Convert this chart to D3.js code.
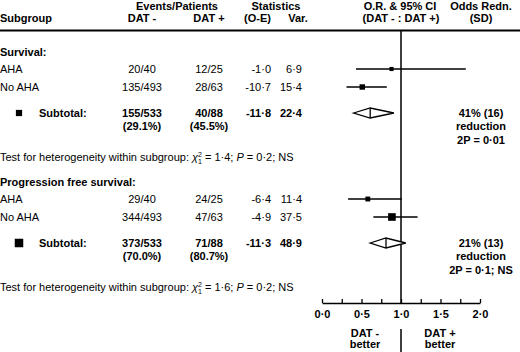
<!DOCTYPE html>
<html>
<head>
<meta charset="utf-8">
<script src="https://cdn.jsdelivr.net/npm/d3@7"></script>
<style>
    body { margin: 0; background: #fff; }
    svg { display: block; font-family: "Liberation Sans", Arial, Helvetica, sans-serif; font-size: 11px; fill: #000; }
    .b { font-weight: bold; }
</style>
</head>
<body>
<div id="chart"></div>
<script>
// groups and subgroups
let groupNames = ["Survival:", "Progression free survival:"];
let subgroupNames = ["AHA", "No AHA", "AHA", "No AHA"];
let subgroupGroup = [0, 0, 1, 1];
let eventsMinus = ["20/40", "135/493", "29/40", "344/493"];
let eventsPlus = ["12/25", "28/63", "24/25", "47/63"];
let oMinusE = [-1.0, -10.7, -6.4, -4.9];
let variance = [6.9, 15.4, 11.4, 37.5];
let orEst = [0.88, 0.51, 0.58, 0.885];
let orLow = [0.43, 0.31, 0.33, 0.65];
let orHigh = [1.82, 0.82, 1.01, 1.21];

// subtotals
let subEventsMinus = ["155/533", "373/533"];
let subPctMinus = ["(29.1%)", "(70.0%)"];
let subEventsPlus = ["40/88", "71/88"];
let subPctPlus = ["(45.5%)", "(80.7%)"];
let subOE = [-11.8, -11.3];
let subVar = [22.4, 48.9];
let subOR = [0.61, 0.81];
let subLow = [0.40, 0.61];
let subHigh = [0.91, 1.06];
let oddsRedn = ["41% (16)", "21% (13)"];
let reductionP = ["2P = 0·01", "2P = 0·1; NS"];
let hetChi = [1.4, 1.6];
let hetP = [0.2, 0.2];

let xTicks = [0, 0.5, 1, 1.5, 2];

let width = 520, height = 352;
let fmt = function(v) { return v.toFixed(1).replace('.', '·'); };

let svg = d3.select('#chart').append('svg')
    .attr('width', width)
    .attr('height', height);

// column positions
let col = {label: 0, minus: 142, plus: 209, oe: 271, v: 302, redn: 481};
let groupY = function(g) { return 52 + g * 130; };
let rowY = function(i) {
    let g = subgroupGroup[i];
    let k = subgroupGroup.slice(0, i).filter(function(d) { return d === g; }).length;
    return groupY(g) + 17 + k * 18;
};
let subY = function(g) { return groupY(g) + 61; };

let x = d3.scaleLinear().domain([0, 2]).range([322, 480]);
let box = d3.scaleSqrt().domain([0, 48.9]).range([1.5, 8.5]);
let axisY = 303;

function txt(px, py, s, anchor, bold) {
    return svg.append('text')
        .attr('x', px).attr('y', py)
        .attr('dy', '0.35em')
        .attr('text-anchor', anchor || 'start')
        .attr('class', bold ? 'b' : null)
        .text(s);
}

// header
let head1 = [["Events/Patients", 177], ["Statistics", 276], ["O.R. & 95% CI", 400], ["Odds Redn.", col.redn]];
head1.forEach(function(h) { txt(h[1], 6, h[0], 'middle', true); });
let head2 = [["DAT -", col.minus, 'middle'], ["DAT +", col.plus, 'middle'], ["(O-E)", col.oe, 'end'],
    ["Var.", 298, 'middle'], ["(DAT - : DAT +)", 401, 'middle'], ["(SD)", col.redn, 'middle']];
txt(0, 18.5, "Subgroup", 'start', true);
head2.forEach(function(h) { txt(h[1], 18.5, h[0], h[2], true); });

svg.append('line')
    .attr('x1', 0).attr('x2', width)
    .attr('y1', 30.5).attr('y2', 30.5)
    .attr('stroke', '#000').attr('stroke-width', 2);

// reference line at OR = 1
svg.append('line')
    .attr('x1', x(1)).attr('x2', x(1))
    .attr('y1', 31).attr('y2', axisY)
    .attr('stroke', '#000').attr('stroke-width', 1.5);
svg.append('line')
    .attr('x1', x(1)).attr('x2', x(1))
    .attr('y1', 329).attr('y2', height)
    .attr('stroke', '#000').attr('stroke-width', 1.5);

// group blocks
groupNames.forEach(function(name, g) {
    txt(0, groupY(g), name, 'start', true);

    let sy = subY(g);
    svg.append('rect')
        .attr('x', 19 - box(subVar[g]) / 2)
        .attr('y', sy - box(subVar[g]) / 2)
        .attr('width', box(subVar[g]))
        .attr('height', box(subVar[g]));
    txt(39, sy, "Subtotal:", 'start', true);
    txt(col.minus, sy, subEventsMinus[g], 'middle', true);
    txt(col.minus, sy + 13.5, subPctMinus[g], 'middle', true);
    txt(col.plus, sy, subEventsPlus[g], 'middle', true);
    txt(col.plus, sy + 13.5, subPctPlus[g], 'middle', true);
    txt(col.oe, sy, fmt(subOE[g]), 'end', true);
    txt(col.v, sy, fmt(subVar[g]), 'end', true);

    txt(col.redn, sy, oddsRedn[g], 'middle', true);
    txt(col.redn, sy + 13.5, "reduction", 'middle', true);
    txt(col.redn, sy + 27, reductionP[g], 'middle', true);

    // diamond
    let dh = 5;
    svg.append('path')
        .attr('d', 'M' + x(subLow[g]) + ',' + sy + 'L' + x(subOR[g]) + ',' + (sy - dh) +
            'L' + x(subHigh[g]) + ',' + sy + 'L' + x(subOR[g]) + ',' + (sy + dh) + 'Z')
        .attr('fill', '#fff').attr('stroke', '#000').attr('stroke-width', 1.3);
    svg.append('line')
        .attr('x1', x(subOR[g])).attr('x2', x(subOR[g]))
        .attr('y1', sy - dh).attr('y2', sy + dh)
        .attr('stroke', '#000').attr('stroke-width', 1.3);

    // heterogeneity test
    let t = svg.append('text')
        .attr('x', 0).attr('y', groupY(g) + 105).attr('dy', '0.35em');
    t.append('tspan').text("Test for heterogeneity within subgroup: ");
    t.append('tspan').attr('font-style', 'italic').text("χ");
    t.append('tspan').attr('font-size', '7px').attr('dy', '-4').text("2");
    t.append('tspan').attr('font-size', '7px').attr('dx', '-4').attr('dy', '7').text("1");
    t.append('tspan').attr('dy', '-3').text(" = " + fmt(hetChi[g]) + ";  ");
    t.append('tspan').attr('font-style', 'italic').text("P");
    t.append('tspan').text(" = " + fmt(hetP[g]) + "; NS");
});

// subgroup rows
subgroupNames.forEach(function(name, i) {
    let ry = rowY(i);
    txt(0, ry, name);
    txt(col.minus, ry, eventsMinus[i], 'middle');
    txt(col.plus, ry, eventsPlus[i], 'middle');
    txt(col.oe, ry, fmt(oMinusE[i]), 'end');
    txt(col.v, ry, fmt(variance[i]), 'end');

    svg.append('line')
        .attr('x1', x(orLow[i])).attr('x2', x(orHigh[i]))
        .attr('y1', ry).attr('y2', ry)
        .attr('stroke', '#000').attr('stroke-width', 1.5);
    let s = box(variance[i]);
    svg.append('rect')
        .attr('x', x(orEst[i]) - s / 2).attr('y', ry - s / 2)
        .attr('width', s).attr('height', s);
});

// axis
let axis = d3.axisBottom(x)
    .tickValues(d3.range(0, 2.01, 0.25))
    .tickSizeInner(-4)
    .tickSizeOuter(0)
    .tickPadding(7)
    .tickFormat(function(d) { return xTicks.indexOf(d) >= 0 ? d.toFixed(1).replace('.', '·') : ''; });

let ax = svg.append('g')
    .attr('transform', 'translate(0,' + axisY + ')')
    .call(axis);
ax.select('.domain').attr('stroke-width', 1.5);
ax.selectAll('.tick line').attr('stroke-width', 1.3);
ax.selectAll('.tick text')
    .attr('font-size', 11)
    .attr('font-weight', 'bold')
    .attr('font-family', '"Liberation Sans", Arial, sans-serif');

txt(365, 333, "DAT -", 'middle', true);
txt(365, 344, "better", 'middle', true);
txt(440, 333, "DAT +", 'middle', true);
txt(440, 344, "better", 'middle', true);
</script>
</body>
</html>
